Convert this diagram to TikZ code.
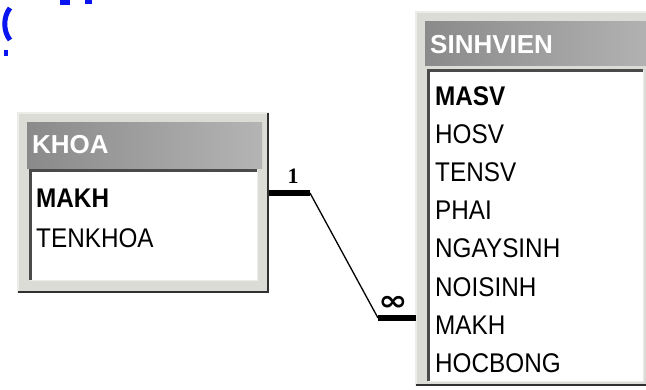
\documentclass[tikz,border=0pt]{standalone}
\usepackage{fontspec}
\setmainfont{Liberation Sans}
\newfontfamily\listfont[FakeStretch=0.9]{Liberation Sans}
\newfontfamily\titlefont{Liberation Sans}
\newfontfamily\infsymfont{DejaVu Sans}
\newfontfamily\onefont{Liberation Serif}
\definecolor{framecol}{HTML}{DCDCD6}
\definecolor{framerim}{HTML}{ECECE8}
\definecolor{shadowcol}{HTML}{303030}
\definecolor{sunkcol}{HTML}{4A4A4A}
\definecolor{barleft}{HTML}{8A8A8A}
\definecolor{barright}{HTML}{B4B4B4}
\definecolor{fragblue}{HTML}{0A14F0}
\tikzset{
  winframe/.style={draw=framerim, line width=2pt, fill=framecol, inner sep=0pt, outer sep=0pt, anchor=north west},
  titlebar/.style={left color=barleft, right color=barright, draw=none, inner sep=0pt, outer sep=0pt, anchor=north west},
  listbox/.style={fill=white, draw=framerim, line width=1pt, inner sep=0pt, outer sep=0pt, anchor=north west},
  winshadow/.style={draw=shadowcol, line width=2.2pt},
  sunken/.style={draw=sunkcol, line width=3pt},
  titletext/.style={anchor=base west, inner sep=0pt, text=white, font=\titlefont\bfseries\fontsize{26}{30}\selectfont},
  fieldtext/.style={anchor=base west, inner sep=0pt, font=\listfont\fontsize{27}{30}\selectfont},
  keytext/.style={fieldtext, font=\listfont\bfseries\fontsize{27}{30}\selectfont},
  thickend/.style={line width=6pt, black},
  relline/.style={line width=1.3pt, black},
  cardlabel/.style={inner sep=0pt, font=\onefont\bfseries\fontsize{22}{22}\selectfont},
  manylabel/.style={inner sep=0pt, font=\infsymfont\bfseries\fontsize{28}{28}\selectfont}
}
\begin{document}
\begin{tikzpicture}[x=1pt,y=-1pt]
\useasboundingbox (0,0) rectangle (646,389);
\clip (0,0) rectangle (646,389);
\fill[white] (0,0) rectangle (646,389);

% clipped blue heading fragments
\draw[fragblue, line width=5pt] (10,8) .. controls (3,17) and (3,31) .. (10,40);
\fill[fragblue] (4,50) rectangle (8,56);
\fill[fragblue] (60,0) rectangle (70,5);
\fill[fragblue] (85,0) rectangle (92,4);

% KHOA window
\node[winframe, minimum width=250pt, minimum height=179pt] (khoa) at (18,113) {};
\draw[winshadow] (khoa.north east) -- (khoa.south east) -- (khoa.south west);
\node[titlebar, minimum width=235pt, minimum height=46pt] (khoabar) at (27,122) {};
\node[titletext] (khoatitle) at (32,153) {KHOA};
\node[listbox, minimum width=227pt, minimum height=110pt] (khoalist) at (30,170) {};
\draw[sunken] (khoalist.south west) -- (khoalist.north west) -- (khoalist.north east);
\node[keytext] (kmakh) at (36,207) {MAKH};
\node[fieldtext] (ktenkhoa) at (36,247) {TENKHOA};

% SINHVIEN window
\node[winframe, minimum width=245pt, minimum height=373pt] (sv) at (416,12) {};
\draw[winshadow] (sv.south west) -- (sv.south east);
\node[titlebar, minimum width=235pt, minimum height=44pt] (svbar) at (425,21) {};
\node[titletext] (svtitle) at (430,53) {SINHVIEN};
\node[listbox, minimum width=215pt, minimum height=311pt] (svlist) at (428,70) {};
\draw[sunken] (svlist.south west) -- (svlist.north west) -- (svlist.north east);
\node[keytext] (smasv) at (435,105) {MASV};
\node[fieldtext] (shosv) at (435,143) {HOSV};
\node[fieldtext] (stensv) at (435,181) {TENSV};
\node[fieldtext] (sphai) at (435,219) {PHAI};
\node[fieldtext] (sngaysinh) at (435,257) {NGAYSINH};
\node[fieldtext] (snoisinh) at (435,296) {NOISINH};
\node[fieldtext] (smakh) at (435,334) {MAKH};
\node[fieldtext] (shocbong) at (435,372) {HOCBONG};

% relationship
\coordinate (ka) at (269,193);
\coordinate (kb) at (310,193);
\coordinate (sb) at (378,318);
\coordinate (sa) at (416,318);
\draw[thickend] (ka) -- (kb);
\draw[relline] (kb) -- (sb);
\draw[thickend] (sb) -- (sa);
\node[cardlabel] (one) at (293,176) {1};
\node[manylabel] (many) at (393,303) {\scalebox{1.25}[1]{∞}};
\end{tikzpicture}
\end{document}
